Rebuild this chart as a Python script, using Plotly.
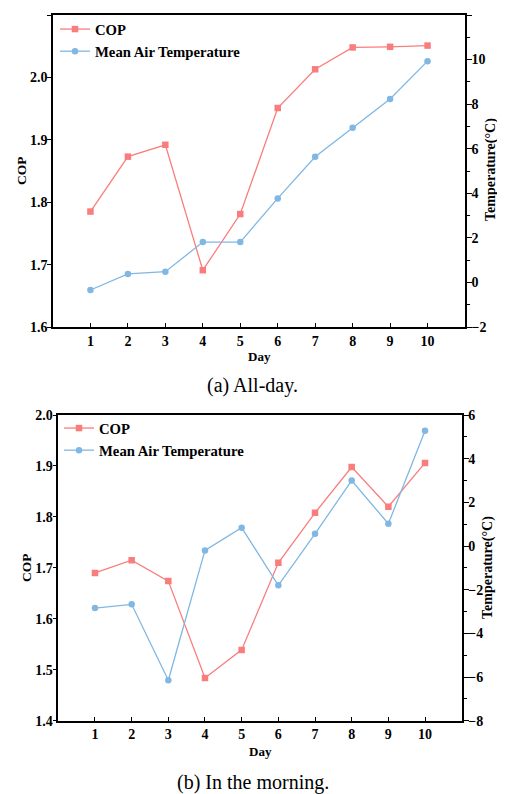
import plotly.graph_objects as go

days = [1, 2, 3, 4, 5, 6, 7, 8, 9, 10]

# (a) All-day
cop_allday = [1.785, 1.873, 1.892, 1.691, 1.781, 1.951, 2.013, 2.048, 2.049, 2.051]
temp_allday = [-0.34, 0.38, 0.48, 1.81, 1.81, 3.77, 5.64, 6.94, 8.23, 9.93]

# (b) In the morning
cop_morning = [1.690, 1.715, 1.674, 1.484, 1.539, 1.710, 1.808, 1.898, 1.820, 1.906]
temp_morning = [-2.84, -2.67, -6.15, -0.20, 0.84, -1.80, 0.56, 3.00, 1.02, 5.28]

cop_name = "COP"
temp_name = "Mean Air Temperature"
captions = ["(a) All-day.", "(b) In the morning."]

COP_COLOR = "#FA7D7D"
TEMP_COLOR = "#80B7E3"
FONT = "Liberation Serif"

# page body has an 8px margin; figure fills the rest of the window
OFF = 8
FW, FH = 505 - OFF, 794 - OFF


def px(sx):
    return (sx - OFF) / FW


def py(sy):
    return 1 - (sy - OFF) / FH


fig = go.Figure()

line_w = 1.3
msize = 6.5

fig.add_trace(go.Scatter(x=days, y=cop_allday, name=cop_name, mode="lines+markers",
                         line=dict(color=COP_COLOR, width=line_w),
                         marker=dict(symbol="square", size=msize, color=COP_COLOR),
                         xaxis="x", yaxis="y", legend="legend"))
fig.add_trace(go.Scatter(x=days, y=temp_allday, name=temp_name, mode="lines+markers",
                         line=dict(color=TEMP_COLOR, width=line_w),
                         marker=dict(symbol="circle", size=msize, color=TEMP_COLOR),
                         xaxis="x", yaxis="y2", legend="legend"))
fig.add_trace(go.Scatter(x=days, y=cop_morning, name=cop_name, mode="lines+markers",
                         line=dict(color=COP_COLOR, width=line_w),
                         marker=dict(symbol="square", size=msize, color=COP_COLOR),
                         xaxis="x2", yaxis="y3", legend="legend2"))
fig.add_trace(go.Scatter(x=days, y=temp_morning, name=temp_name, mode="lines+markers",
                         line=dict(color=TEMP_COLOR, width=line_w),
                         marker=dict(symbol="circle", size=msize, color=TEMP_COLOR),
                         xaxis="x2", yaxis="y4", legend="legend2"))

tickfont = dict(family=FONT, size=14, color="black", weight="bold")
axline = dict(showline=True, linecolor="black", linewidth=1.6, showgrid=False, zeroline=False,
              tickcolor="black", tickwidth=1.3, tickfont=tickfont, automargin=False)

top_x = [px(53), px(465)]
top_y = [py(327), py(15)]
bot_x = [px(58.3), px(461.7)]
bot_y = [py(720.7), py(415)]

legend_font = dict(family=FONT, size=14.7, color="black", weight="bold")
minor_ticks = dict(dtick=1, ticks="outside", ticklen=3, tickcolor="black")

fig.update_layout(
    width=FW, height=FH,
    margin=dict(l=0, r=0, t=0, b=0, autoexpand=False),
    paper_bgcolor="white", plot_bgcolor="white",
    font=dict(family=FONT, color="black"),
    xaxis=dict(domain=top_x, anchor="y", range=[0, 11], tickvals=days, ticks="inside", ticklen=4,
               mirror=True, **axline),
    yaxis=dict(domain=top_y, anchor="x", range=[1.6, 2.1], dtick=0.1, tickformat=".1f",
               ticks="outside", ticklen=4, ticklabelstandoff=-3, **axline),
    yaxis2=dict(overlaying="y", side="right", anchor="x", range=[-2, 12], dtick=2,
                ticks="outside", ticklen=5, ticklabelstandoff=-3, minor=minor_ticks, **axline),
    xaxis2=dict(domain=bot_x, anchor="y3", range=[0, 11], tickvals=days, ticks="inside", ticklen=4,
                mirror=True, **axline),
    yaxis3=dict(domain=bot_y, anchor="x2", range=[1.4, 2.0], dtick=0.1, tickformat=".1f",
                ticks="outside", ticklen=4, ticklabelstandoff=-3, **axline),
    yaxis4=dict(overlaying="y3", side="right", anchor="x2", range=[-8, 6], dtick=2,
                ticks="outside", ticklen=5, ticklabelstandoff=-3, minor=minor_ticks, **axline),
    legend=dict(x=px(55), y=py(13), xanchor="left", yanchor="top", bgcolor="rgba(0,0,0,0)",
                font=legend_font, itemwidth=30, tracegroupgap=0),
    legend2=dict(x=px(59), y=py(412), xanchor="left", yanchor="top", bgcolor="rgba(0,0,0,0)",
                 font=legend_font, itemwidth=30, tracegroupgap=0),
    showlegend=True,
)

day_font = dict(family=FONT, size=13, color="black", weight="bold")
cop_font = dict(family=FONT, size=13.5, color="black", weight="bold")
temp_font = dict(family=FONT, size=14, color="black", weight="bold")
cap_font = dict(family=FONT, size=20, color="black")

ann = []
ann.append(dict(text="Day", x=(top_x[0] + top_x[1]) / 2, y=py(356), showarrow=False, font=day_font))
ann.append(dict(text="COP", x=px(21), y=py(171), textangle=-90, showarrow=False, font=cop_font))
ann.append(dict(text="Temperature(°C)", x=px(491), y=py(170), textangle=-90, showarrow=False,
                font=temp_font))
ann.append(dict(text=captions[0], x=px(252.5), y=py(385), showarrow=False, font=cap_font))
ann.append(dict(text="Day", x=(bot_x[0] + bot_x[1]) / 2, y=py(751), showarrow=False, font=day_font))
ann.append(dict(text="COP", x=px(26), y=py(568), textangle=-90, showarrow=False, font=cop_font))
ann.append(dict(text="Temperature(°C)", x=px(488), y=py(568), textangle=-90, showarrow=False,
                font=temp_font))
ann.append(dict(text=captions[1], x=px(252.5), y=py(782), showarrow=False, font=cap_font))
for a in ann:
    a["xref"] = "paper"
    a["yref"] = "paper"
    a["xanchor"] = "center"
    a["yanchor"] = "middle"
fig.update_layout(annotations=ann)

fig.write_html("out.html")
